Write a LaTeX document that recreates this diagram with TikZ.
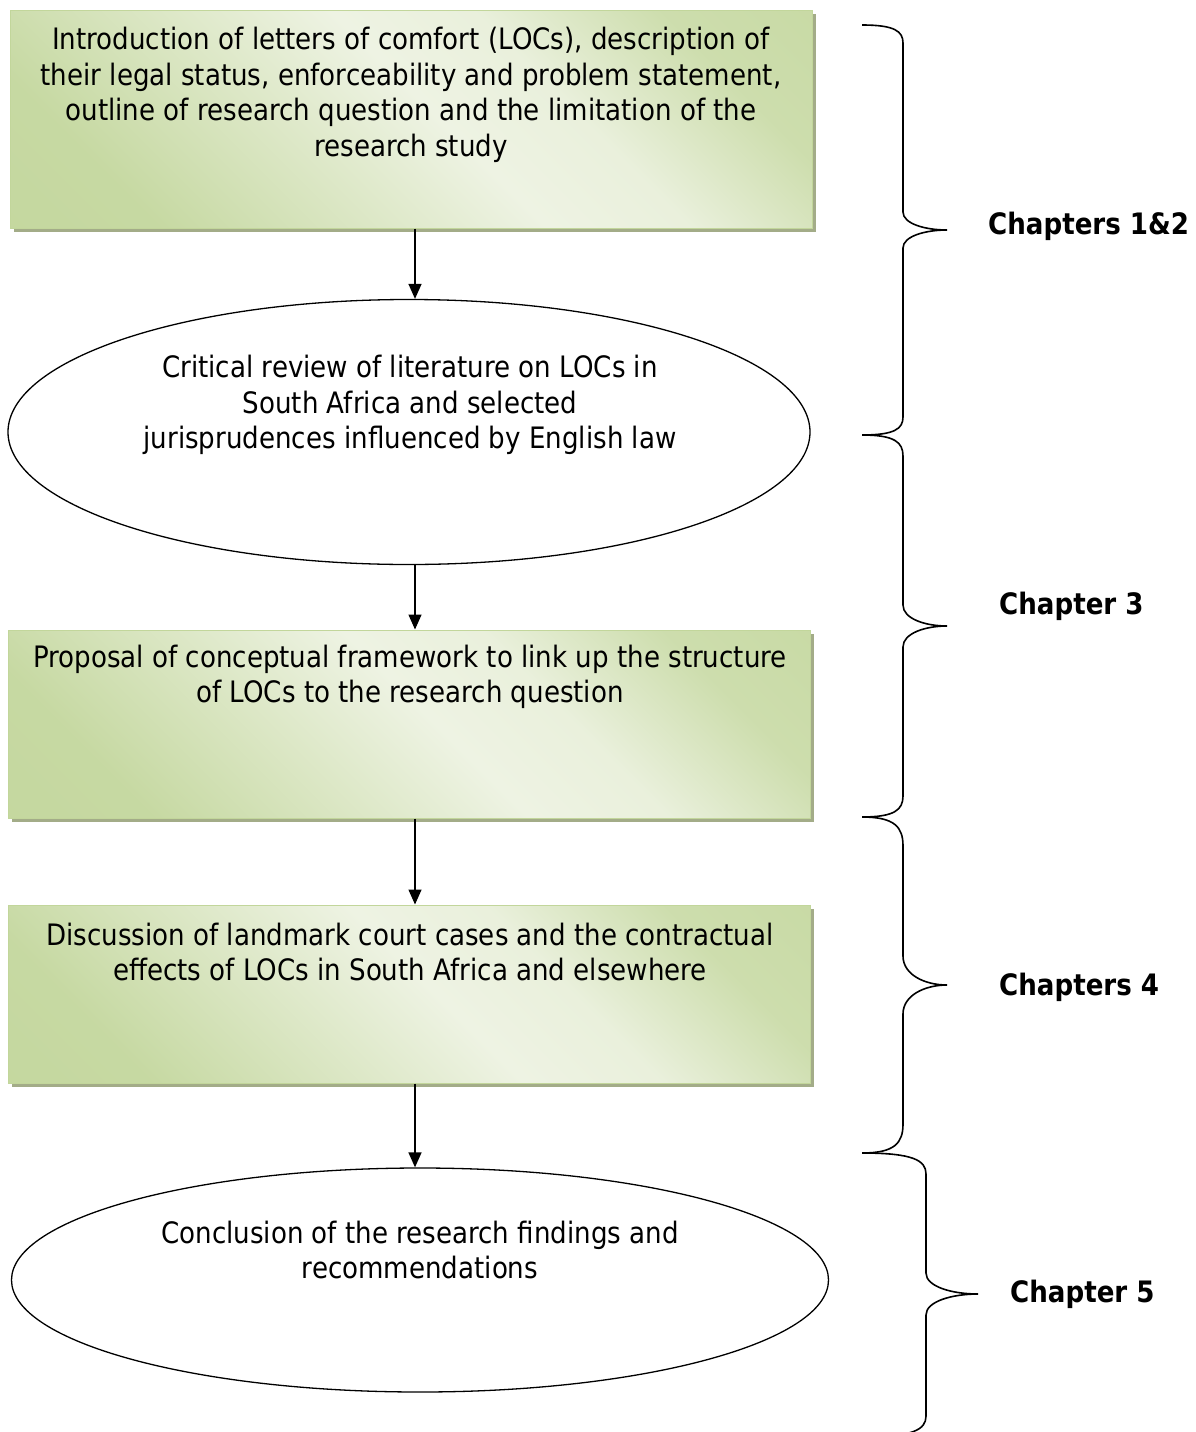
\documentclass[tikz,border=0pt]{standalone}
\usepackage{fontspec}
\setmainfont{DejaVu Sans}[FakeStretch=0.885]
\usepackage{tikz}
\usetikzlibrary{
  arrows.meta,
  positioning,
  shadows,
  shapes.geometric
}
\definecolor{ink}{HTML}{000000}
\definecolor{olive}{HTML}{C2D69B}
\definecolor{olivelight}{HTML}{EEF3E3}
\definecolor{oliveshadow}{HTML}{A3AC88}
\pgfdeclareverticalshading{stagefade}{100bp}{
  color(0bp)=(olive);
  color(25bp)=(olive!90!olivelight);
  color(40bp)=(olive!40!olivelight);
  color(52bp)=(olivelight);
  color(62bp)=(olivelight!90!olive);
  color(75bp)=(olive!75!olivelight);
  color(100bp)=(olive)
}
\newcommand{\bodyfont}{\fontsize{29.5}{35.5}\selectfont}
% #1 x of the ends, #2 x of the stem, #3 x of the tip,
% #4 top, #5 tip, #6 bottom, #7 length of the bends
\newcommand{\chapbrace}[7]{%
  \draw[brace] (#1,#4)
    .. controls ({#1+0.8*(#2-#1)},#4) and (#2,{#4+0.35*#7}) .. (#2,{#4+#7})
    -- (#2,{#5-#7})
    .. controls (#2,{#5-0.35*#7}) and ({#3-0.5*(#3-#2)},#5) .. (#3,#5)
    .. controls ({#3-0.5*(#3-#2)},#5) and (#2,{#5+0.35*#7}) .. (#2,{#5+#7})
    -- (#2,{#6-#7})
    .. controls (#2,{#6-0.35*#7}) and ({#1+0.8*(#2-#1)},#6) .. (#1,#6);
}
\tikzset{
  flow/.style={
    -{Triangle[length=15pt,width=13pt]},
    line width=1.4pt,
    draw=ink
  },
  brace/.style={
    line width=1.6pt,
    draw=ink
  },
  stage/.style={
    rectangle,
    draw=olive,
    line width=1pt,
    shading=stagefade,
    shading angle=-45,
    minimum width=802pt,
    inner sep=0pt,
    drop shadow={shadow xshift=4pt, shadow yshift=-4pt,
      fill=oliveshadow, opacity=1}
  },
  oval/.style={
    ellipse,
    draw=ink,
    fill=white,
    line width=1.3pt,
    inner sep=0pt
  },
  stagetext/.style={
    font=\bodyfont,
    align=center,
    inner sep=0pt
  },
  chaplabel/.style={
    font=\bfseries\bodyfont,
    anchor=west,
    inner sep=0pt
  }
}

\begin{document}
\begin{tikzpicture}[x=1pt, y=-1pt]
  \useasboundingbox[fill=white] (0,0) rectangle (1195,1432);
  % boxes and ovals
  \node[stage, minimum height=218pt] (intro) at (411,119) {};
  \node[stagetext] (introtext) at (411,95) {Introduction of letters of comfort (LOCs), description of\\their legal status, enforceability and problem statement,\\outline of research question and the limitation of the\\research study};
  \node[oval, minimum width=802pt, minimum height=265pt] (review) at (409,432) {};
  \node[stagetext] (reviewtext) at (410,405) {Critical review of literature on LOCs in\\South Africa and selected\\jurisprudences influenced by English law};
  \node[stage, minimum height=188pt] (frame) at (409,724) {};
  \node[stagetext] (frametext) at (410,677) {Proposal of conceptual framework to link up the structure\\of LOCs to the research question};
  \node[stage, minimum height=178pt] (cases) at (409,994) {};
  \node[stagetext] (casestext) at (410,952) {Discussion of landmark court cases and the contractual\\effects of LOCs in South Africa and elsewhere};
  \node[oval, minimum width=817pt, minimum height=224pt] (concl) at (420,1280) {};
  \node[stagetext] (concltext) at (420,1250) {Conclusion of the research findings and\\recommendations};
  % arrows
  \draw[flow] ([xshift=4pt]intro.south) -- ([xshift=4pt]intro.south |- review.north);
  \draw[flow] ([xshift=6pt]review.south) -- ([xshift=6pt]review.south |- frame.north);
  \draw[flow] ([xshift=6pt]frame.south) -- ([xshift=6pt]frame.south |- cases.north);
  \draw[flow] ([xshift=6pt]cases.south) -- ([xshift=6pt]cases.south |- concl.north);
  % braces
  \chapbrace{862}{903}{947}{25}{230}{435}{18}
  \chapbrace{862}{903}{947}{435}{626}{817}{21}
  \chapbrace{862}{903}{947}{817}{985}{1153}{29}
  \chapbrace{862}{926}{978}{1153}{1294}{1437}{21}
  \node[chaplabel] (ch12) at (988,226) {Chapters 1\&2};
  \node[chaplabel] (ch3) at (999,606) {Chapter 3};
  \node[chaplabel] (ch4) at (999,987) {Chapters 4};
  \node[chaplabel] (ch5) at (1010,1294) {Chapter 5};
\end{tikzpicture}
\end{document}
